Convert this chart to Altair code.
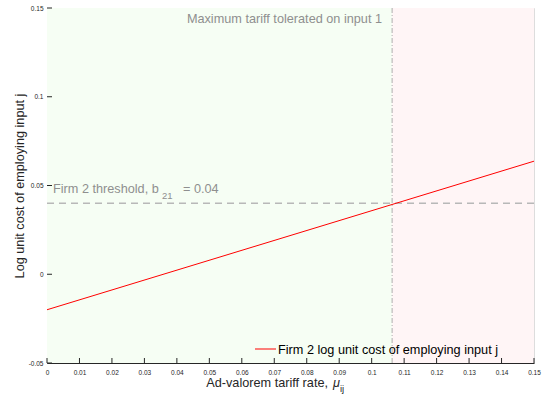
import altair as alt
import pandas as pd

# data
x_ticks = [0, 0.01, 0.02, 0.03, 0.04, 0.05, 0.06, 0.07, 0.08, 0.09, 0.1, 0.11, 0.12, 0.13, 0.14, 0.15]
y_ticks = [-0.05, 0, 0.05, 0.1, 0.15]
line_x = [0, 0.15]
line_y = [-0.02, 0.0637]
threshold = 0.04
max_tariff = 0.1063
region_start = [0, 0.1063]
region_end = [0.1063, 0.15]
region_name = ["tolerated", "not tolerated"]

W, H = 487, 355
FONT = "Liberation Sans"
DARK = "#262626"
GRAY = "#8f8f8f"
FS = 12.7

xs = alt.Scale(domain=[0, 0.15], nice=False, zero=False)
ys = alt.Scale(domain=[-0.05, 0.15], nice=False, zero=False)
lab = "replace(format(datum.value, '.2~f'), '\u2212', '-')"

x_axis = alt.Axis(values=x_ticks, labelExpr=lab, title=None, ticks=False, grid=False,
                  domainColor=DARK, labelColor=DARK, labelFontSize=6.5, labelFont=FONT,
                  labelPadding=6, labelOverlap=False, labelFlush=False)
y_axis = alt.Axis(values=y_ticks, labelExpr=lab, title="Log unit cost of employing input j",
                  ticks=False, grid=False, domainColor=DARK, labelColor=DARK,
                  labelFontSize=6.5, labelFont=FONT, labelPadding=4,
                  labelOverlap=False, labelFlush=False,
                  titleFont=FONT, titleFontSize=FS, titleFontWeight="normal",
                  titleColor=DARK, titlePadding=2)

regions = pd.DataFrame({"x": region_start, "x2": region_end, "name": region_name})
bg = alt.Chart(regions).mark_rect(opacity=1).encode(
    x=alt.X("x:Q", scale=xs, axis=x_axis),
    x2="x2:Q",
    y=alt.value(0), y2=alt.value(H),
    fill=alt.Fill("name:N", scale=alt.Scale(domain=region_name, range=["#f6fef4", "#fff5f6"]), legend=None),
)

line_df = pd.DataFrame({"x": line_x, "y": line_y})
red = alt.Chart(line_df).mark_line(color="#ff0000", strokeWidth=1).encode(
    x=alt.X("x:Q", scale=xs, axis=x_axis),
    y=alt.Y("y:Q", scale=ys, axis=y_axis),
)

thr = alt.Chart(pd.DataFrame({"y": [threshold]})).mark_rule(
    color="#b8b8b8", strokeWidth=1.5, strokeDash=[7, 5]).encode(
    y=alt.Y("y:Q", scale=ys, axis=y_axis), x=alt.value(0), x2=alt.value(W))

vline = alt.Chart(pd.DataFrame({"x": [max_tariff]})).mark_rule(
    color="#9a9a9a", strokeWidth=0.8, strokeDash=[5, 2, 1, 2]).encode(
    x=alt.X("x:Q", scale=xs, axis=x_axis), y=alt.value(0), y2=alt.value(H))

xt = alt.Chart(pd.DataFrame({"x": x_ticks})).mark_tick(
    color=DARK, thickness=1, size=5, orient="vertical", opacity=1).encode(
    x=alt.X("x:Q", scale=xs, axis=x_axis), y=alt.value(H - 2.5))
yt = alt.Chart(pd.DataFrame({"y": y_ticks})).mark_tick(
    color=DARK, thickness=1, size=5, orient="horizontal", opacity=1).encode(
    y=alt.Y("y:Q", scale=ys, axis=y_axis), x=alt.value(2.5))

def txt(s, x, y, size=FS, color=GRAY, align="left", italic=False):
    return alt.Chart(pd.DataFrame({"t": [s]})).mark_text(
        align=align, baseline="alphabetic", font=FONT, fontSize=size, color=color,
        fontStyle="italic" if italic else "normal").encode(
        text="t:N", x=alt.value(x), y=alt.value(y))

texts = [
    txt("Maximum tariff tolerated on input 1", 335, 15, align="right"),
    txt("Firm 2 threshold, b", 6, 185),
    txt("21", 115, 191, size=9.5),
    txt("= 0.04", 136, 185),
    txt("Ad-valorem tariff rate,", 281, 379, color=DARK, align="right"),
    txt("\u03bc", 286, 379, color=DARK, italic=True),
    txt("ij", 293, 384, size=9.5, color=DARK),
    txt("Firm 2 log unit cost of employing input j", 231, 346, color="#000000"),
]

leg = alt.Chart(pd.DataFrame({"a": [0]})).mark_rule(color="#ff0000", strokeWidth=1).encode(
    x=alt.value(208), x2=alt.value(229), y=alt.value(341))

chart = alt.layer(bg, thr, vline, red, xt, yt, leg, *texts).properties(
    width=W, height=H,
    padding={"left": 47, "top": 8, "right": 11, "bottom": 39},
    autosize=alt.AutoSizeParams(type="none"),
).configure_view(stroke=None).configure(background="white")

chart.save("out.html", embed_options={"renderer": "svg", "actions": False})
